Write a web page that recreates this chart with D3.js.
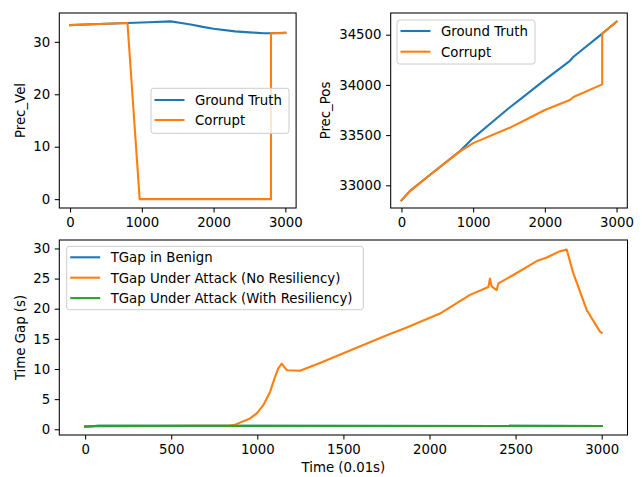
<!DOCTYPE html>
<html>
<head>
<meta charset="utf-8">
<script src="https://cdn.jsdelivr.net/npm/d3@7"></script>
<style>
  body { margin: 0; background: #fff; }
  svg { display: block; font-family: "DejaVu Sans", sans-serif; }
</style>
</head>
<body>
<div class="fig"></div>
<script>
// Datos
var velTimeGT = [0, 400, 800, 1100, 1400, 1550, 1700, 1850, 2000, 2300, 2500, 2700, 2800, 3000];
var velGT     = [33.2, 33.4, 33.6, 33.75, 33.9, 33.6, 33.25, 32.85, 32.5, 32.0, 31.8, 31.65, 31.65, 31.7];
var velTimeCorrupt = [0, 400, 800, 970, 2800, 2800, 3000];
var velCorrupt     = [33.2, 33.4, 33.6, 0, 0, 31.65, 31.7];

var posTimeGT = [0, 130, 400, 800, 1000, 1250, 1500, 1700, 2000, 2350, 2400, 2800, 3000];
var posGT     = [32850, 32950, 33105, 33330, 33470, 33620, 33770, 33880, 34050, 34240, 34280, 34510, 34630];
var posTimeCorrupt = [0, 130, 400, 800, 1000, 1500, 1700, 2000, 2350, 2400, 2800, 2800, 3000];
var posCorrupt     = [32850, 32950, 33105, 33330, 33420, 33570, 33640, 33750, 33850, 33880, 34005, 34510, 34630];

var gapTimeBenign = [0, 80, 3000];
var gapBenign     = [0.45, 0.58, 0.55];
var gapTimeAttack = [0, 840, 870, 900, 958, 997, 1035, 1074, 1103, 1122, 1142, 1171, 1248, 1364, 1500, 1752, 1868,
                     2061, 2235, 2342, 2351, 2361, 2390, 2400, 2487, 2623, 2681, 2758, 2797, 2835, 2913, 2990, 3000];
var gapAttack     = [0.45, 0.6, 0.75, 1.1, 1.8, 2.65, 4.0, 6.2, 8.7, 10.1, 10.9, 9.8, 9.7, 11.0, 12.6, 15.6, 16.9,
                     19.2, 22.3, 23.6, 25.0, 23.7, 23.1, 24.2, 25.6, 27.9, 28.5, 29.55, 29.8, 25.9, 19.8, 16.2, 16.0];
var gapTimeResil = [0, 80, 3000];
var gapResil     = [0.45, 0.58, 0.55];

var velTicksY = [0, 10, 20, 30];
var posTicksY = [33000, 33500, 34000, 34500];
var topTicksX = [0, 1000, 2000, 3000];
var gapTicksY = [0, 5, 10, 15, 20, 25, 30];
var gapTicksX = [0, 500, 1000, 1500, 2000, 2500, 3000];

var C_BLUE = "#1f77b4", C_ORANGE = "#ff7f0e", C_GREEN = "#2ca02c";
var FS = 13.3;      // tamano de fuente
var TICK = 4.6;     // largo de tick

var svg = d3.select(".fig").append("svg")
    .attr("width", 644)
    .attr("height", 477);

function panel(cfg) {
    var x = d3.scaleLinear().domain(cfg.xDomain).range([cfg.left, cfg.right]);
    var y = d3.scaleLinear().domain(cfg.yDomain).range([cfg.bottom, cfg.top]);
    var g = svg.append("g");

    // Ejes
    var ax = g.append("g")
        .attr("transform", "translate(0," + cfg.bottom + ")")
        .call(d3.axisBottom(x).tickValues(cfg.xTicks).tickFormat(d3.format("d"))
            .tickSize(TICK).tickPadding(TICK).tickSizeOuter(0));
    var ay = g.append("g")
        .attr("transform", "translate(" + cfg.left + ",0)")
        .call(d3.axisLeft(y).tickValues(cfg.yTicks).tickFormat(d3.format("d"))
            .tickSize(TICK).tickPadding(TICK).tickSizeOuter(0));
    [ax, ay].forEach(function(a) {
        a.select(".domain").remove();
        a.selectAll("line").attr("stroke", "#000").attr("stroke-width", 1.05);
        a.selectAll("text").attr("fill", "#000").attr("font-size", FS)
            .attr("font-family", "DejaVu Sans, sans-serif");
    });

    // Lineas
    var line = d3.line()
        .x(function(d) { return x(d[0]); })
        .y(function(d) { return y(d[1]); });
    cfg.series.forEach(function(s) {
        var pts = s.t.map(function(t, i) { return [t, s.v[i]]; });
        g.append("path")
            .datum(pts)
            .attr("d", line)
            .attr("fill", "none")
            .attr("stroke", s.color)
            .attr("stroke-width", 2.1)
            .attr("stroke-linejoin", "round")
            .attr("stroke-linecap", "square");
    });

    // Marco
    g.append("rect")
        .attr("x", cfg.left).attr("y", cfg.top)
        .attr("width", cfg.right - cfg.left).attr("height", cfg.bottom - cfg.top)
        .attr("fill", "none").attr("stroke", "#000").attr("stroke-width", 1.05);

    // Etiqueta eje Y
    g.append("text")
        .attr("transform", "translate(" + cfg.yLabelX + "," + (cfg.top + cfg.bottom) / 2 + ") rotate(-90)")
        .attr("text-anchor", "middle")
        .attr("font-size", FS)
        .text(cfg.yLabel);

    if (cfg.xLabel) {
        g.append("text")
            .attr("x", (cfg.left + cfg.right) / 2)
            .attr("y", cfg.bottom + 37)
            .attr("text-anchor", "middle")
            .attr("font-size", FS)
            .text(cfg.xLabel);
    }

    // Leyenda
    var L = cfg.legend;
    g.append("rect")
        .attr("x", L.x).attr("y", L.y)
        .attr("width", L.w).attr("height", L.h)
        .attr("rx", 2.7)
        .attr("fill", "#fff").attr("fill-opacity", 0.8)
        .attr("stroke", "#cccccc").attr("stroke-width", 1);
    cfg.series.forEach(function(s, i) {
        var yy = L.y + L.first + i * L.step;
        g.append("line")
            .attr("x1", L.x + 3.5).attr("x2", L.x + 33.5)
            .attr("y1", yy).attr("y2", yy)
            .attr("stroke", s.color).attr("stroke-width", 2.1);
        g.append("text")
            .attr("x", L.x + 44)
            .attr("y", yy + 4.8)
            .attr("font-size", FS)
            .text(s.name);
    });
}

panel({
    left: 59.3, right: 296.1, top: 13, bottom: 208,
    xDomain: [-150, 3150], yDomain: [-1.69, 35.5],
    xTicks: topTicksX, yTicks: velTicksY,
    yLabel: "Prec_Vel", yLabelX: 25,
    series: [
        { name: "Ground Truth", color: C_BLUE, t: velTimeGT, v: velGT },
        { name: "Corrupt", color: C_ORANGE, t: velTimeCorrupt, v: velCorrupt }
    ],
    legend: { x: 151, y: 88.3, w: 138, h: 45, first: 11.7, step: 20 }
});

panel({
    left: 390.7, right: 627.3, top: 13, bottom: 208,
    xDomain: [-150, 3150], yDomain: [32774, 34716],
    xTicks: topTicksX, yTicks: posTicksY,
    yLabel: "Prec_Pos", yLabelX: 330,
    series: [
        { name: "Ground Truth", color: C_BLUE, t: posTimeGT, v: posGT },
        { name: "Corrupt", color: C_ORANGE, t: posTimeCorrupt, v: posCorrupt }
    ],
    legend: { x: 397, y: 20, w: 138, h: 44, first: 11, step: 20.7 }
});

panel({
    left: 59.3, right: 627.5, top: 240, bottom: 435,
    xDomain: [-150, 3150], yDomain: [-0.95, 31.4],
    xTicks: gapTicksX, yTicks: gapTicksY,
    yLabel: "Time Gap (s)", yLabelX: 25,
    xLabel: "Time (0.01s)",
    series: [
        { name: "TGap in Benign", color: C_BLUE, t: gapTimeBenign, v: gapBenign },
        { name: "TGap Under Attack (No Resiliency)", color: C_ORANGE, t: gapTimeAttack, v: gapAttack },
        { name: "TGap Under Attack (With Resiliency)", color: C_GREEN, t: gapTimeResil, v: gapResil }
    ],
    legend: { x: 66.7, y: 246.3, w: 296.6, h: 63.4, first: 11, step: 20.4 }
});
</script>
</body>
</html>
